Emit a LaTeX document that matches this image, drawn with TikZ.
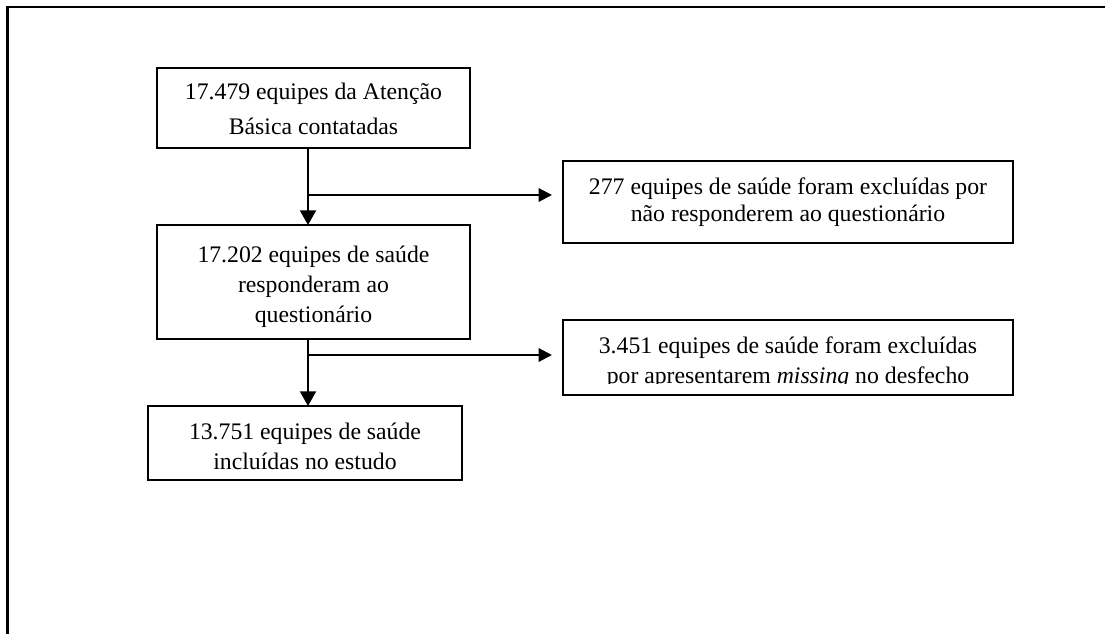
\documentclass[tikz,border=0pt]{standalone}
\usepackage{fontspec}
\setmainfont{Liberation Serif}
\usetikzlibrary{arrows.meta}
\begin{document}
\begin{tikzpicture}[x=0.75pt,y=-0.75pt,
  box/.style={draw, line width=1.3pt, align=center, inner sep=0pt, outer sep=0pt,
              font=\fontsize{17.8}{22.5}\selectfont},
  txt/.style={align=center, inner sep=0pt, font=\fontsize{17.8}{22.5}\selectfont},
  frame/.style={line width=1.6pt},
  harr/.style={line width=1.5pt, -{Triangle[length=10pt,width=10pt]}, shorten >=8.25pt},
  varr/.style={line width=1.5pt, -{Triangle[length=11pt,width=12pt]}}]
\useasboundingbox (0,0) rectangle (1105,634);
% outer frame (top and left only)
\draw[frame] (7.5,640) -- (7.5,6.7) -- (1110,6.7);
% boxes
\node[box, minimum width=234.75pt, minimum height=60pt,
      font=\fontsize{17.8}{26}\selectfont] (b1) at (313.5,108)
  {\rule{0pt}{14pt}17.479 equipes da Atenção\\Básica contatadas};
\node[box, minimum width=234.75pt, minimum height=85.5pt] (b2) at (313.5,282)
  {\rule{0pt}{19.7pt}17.202 equipes de saúde\\responderam ao\\questionário};
\node[box, minimum width=337.5pt, minimum height=61.5pt,
      font=\fontsize{17.8}{20.5}\selectfont] (b3) at (788,202)
  {277 equipes de saúde foram excluídas por\\não responderem ao questionário};
\node[box, minimum width=337.5pt, minimum height=56.25pt] (b4) at (788,357.5) {};
\begin{scope}
  \clip (563,318) rectangle (1013,383.5);
  \node[txt] (b4t) at (788,362.5)
    {3.451 equipes de saúde foram excluídas\\por apresentarem \textit{missing} no desfecho};
\end{scope}
\node[box, minimum width=235.5pt, minimum height=55.5pt] (b5) at (305,443)
  {\rule{0pt}{17.4pt}13.751 equipes de saúde\\incluídas no estudo};
% connectors
\coordinate (s1) at (308,195);
\coordinate (s2) at (308,355);
\draw[varr] (b1.south -| s1) -- (b2.north -| s1);
\draw[harr] (s1) -- (b3.west |- s1);
\draw[varr] (b2.south -| s2) -- (b5.north -| s2);
\draw[harr] (s2) -- (b4.west |- s2);
\end{tikzpicture}
\end{document}
